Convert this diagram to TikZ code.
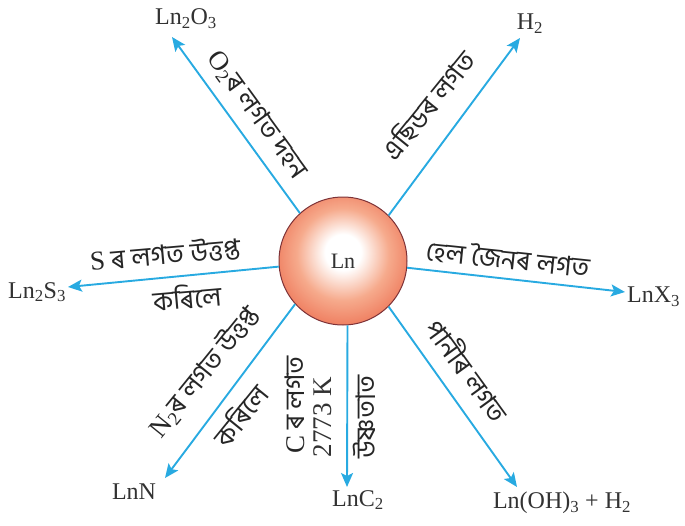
\documentclass[tikz,border=0pt]{standalone}
\usepackage{fontspec}
\setmainfont{Liberation Serif}
\newfontfamily\bn[Script=Bengali]{Hind Siliguri}
\usetikzlibrary{arrows.meta}
\definecolor{arrowblue}{RGB}{40,170,225}
\definecolor{chemgray}{RGB}{50,50,50}
\definecolor{ballmid}{RGB}{246,170,140}
\definecolor{ballouter}{RGB}{236,108,78}
\definecolor{balledge}{RGB}{222,82,58}
\definecolor{ballline}{RGB}{125,50,55}
\pgfdeclareradialshading{lnball}{\pgfpoint{0bp}{4bp}}{color(0bp)=(white); color(7bp)=(white); color(18bp)=(ballmid); color(31bp)=(ballouter); color(47bp)=(balledge); color(50bp)=(balledge)}
\begin{document}
\begin{tikzpicture}[x=1pt,y=-1pt,
  conn/.style={draw=arrowblue, line width=1.9pt, -{Stealth[length=14pt,width=12pt,inset=3pt]}},
  chem/.style={font=\fontsize{24}{26}\selectfont, text=chemgray, inner sep=0pt},
  lbl/.style={font=\bn\fontsize{27}{29}\selectfont, text=black!85, inner sep=0pt},
  ballstyle/.style={circle, draw=ballline, line width=1pt, shading=lnball, minimum size=128pt, inner sep=0pt, text=chemgray}]
\useasboundingbox (0,0) rectangle (685,525);

\node[ballstyle] (ln) at (343,261) {\fontsize{22}{24}\selectfont Ln};

% product labels
\node[chem] (p1) at (186,19) {Ln\textsubscript{2}O\textsubscript{3}};
\node[chem] (p2) at (530,24) {H\textsubscript{2}};
\node[chem] (p3) at (37,292) {Ln\textsubscript{2}S\textsubscript{3}};
\node[chem, anchor=west] (p4) at (627,297) {LnX\textsubscript{3}};
\node[chem] (p5) at (134,492) {LnN};
\node[chem] (p6) at (358,500) {LnC\textsubscript{2}};
\node[chem] (p7) at (562,503) {Ln(OH)\textsubscript{3} + H\textsubscript{2}};

% arrow tips
\coordinate (t1) at (172,37);
\coordinate (t2) at (520,38);
\coordinate (t3) at (68,287);
\coordinate (t4) at (625,292);
\coordinate (t5) at (165,478);
\coordinate (t6) at (347,487);
\coordinate (t7) at (517,487);

\draw[conn] (ln.132) -- (t1);
\draw[conn] (ln.45) -- (t2);
\draw[conn] (ln.185) -- (t3);
\draw[conn] (ln.-6) -- (t4);
\draw[conn] (ln.222) -- (t5);
\draw[conn] (ln.274) -- (t6);
\draw[conn] (ln.-45) -- (t7);

% reaction labels
\node[lbl, rotate=-54] (l1) at (257,115) {{\rmfamily O\textsubscript{2}}ৰ লগত দহন};
\node[lbl, rotate=51] (l2) at (428,105) {এছিডৰ লগত};
\node[lbl, rotate=5] (l3a) at (165,254) {{\rmfamily S} ৰ লগত উত্তপ্ত};
\node[lbl, rotate=5] (l3b) at (187,297) {কৰিলে};
\node[lbl, rotate=-6] (l4) at (508,258) {হেল জৈনৰ লগত};
\node[lbl, rotate=51] (l5a) at (204,372) {{\rmfamily N\textsubscript{2}}ৰ লগত উত্তপ্ত};
\node[lbl, rotate=51] (l5b) at (240,415) {কৰিলে};
\node[lbl, rotate=90] (l6a) at (295,405) {{\rmfamily C} ৰ লগত};
\node[chem, font=\fontsize{27}{29}\selectfont, rotate=90] (l6b) at (323,417) {2773 K};
\node[lbl, rotate=90] (l6c) at (364,417) {উষ্ণতাত};
\node[lbl, rotate=-54] (l7) at (469,370) {পানীৰ লগত};
\end{tikzpicture}
\end{document}
